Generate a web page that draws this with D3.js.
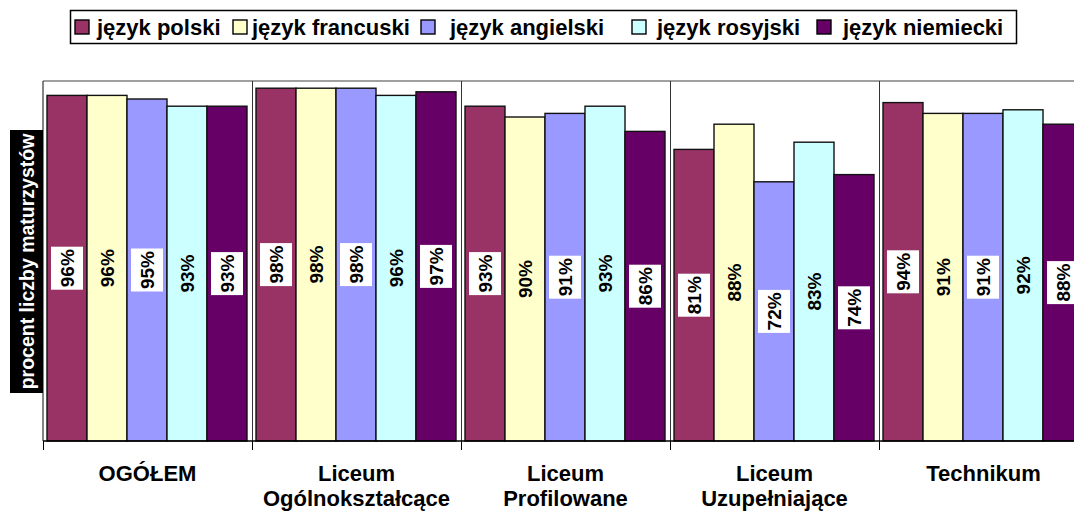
<!DOCTYPE html>
<html>
<head>
<meta charset="utf-8">
<script src="https://cdn.jsdelivr.net/npm/d3@7"></script>
<style>
  html, body { margin: 0; padding: 0; background: #fff; }
  svg { display: block; font-family: Arial, "Liberation Sans", sans-serif; }
</style>
</head>
<body>
<svg id="chart" width="1074" height="511"></svg>
<script>
// School types (x axis) and language series
const categories = ["OGÓŁEM", "Liceum\nOgólnokształcące", "Liceum\nProfilowane", "Liceum\nUzupełniające", "Technikum"];
const seriesNames = ["język polski", "język francuski", "język angielski", "język rosyjski", "język niemiecki"];
const polski     = [96, 98, 93, 81, 94];
const francuski  = [96, 98, 90, 88, 91];
const angielski  = [95, 98, 91, 72, 91];
const rosyjski   = [93, 96, 93, 83, 92];
const niemiecki  = [93, 97, 86, 74, 88];
const seriesValues = [polski, francuski, angielski, rosyjski, niemiecki];
const yAxisTitle = "procent liczby maturzystów";

const colors = ["#993366", "#FFFFCC", "#9999FF", "#CCFFFF", "#660066"];
const labelBoxed = [true, false, true, false, true];

const svg = d3.select("#chart");

const plot = { left: 43, right: 1088, top: 81, bottom: 441 };

const x = d3.scaleBand().domain(d3.range(categories.length))
  .range([plot.left, plot.right]).paddingInner(0).paddingOuter(0);
const xs = d3.scaleBand().domain(d3.range(seriesNames.length))
  .range([4, x.bandwidth() - 5]).padding(0);
const y = d3.scaleLinear().domain([0, 100]).range([plot.bottom, plot.top]);

// plot frame: top border and left border
svg.append("line").attr("x1", plot.left).attr("x2", 1074).attr("y1", plot.top).attr("y2", plot.top)
  .attr("stroke", "#808080").attr("stroke-width", 1.5);
svg.append("line").attr("x1", plot.left).attr("x2", plot.left).attr("y1", plot.top).attr("y2", plot.bottom)
  .attr("stroke", "#333").attr("stroke-width", 1.2);

// vertical grid lines on category boundaries
const bounds = d3.range(1, categories.length).map(i => x(i));
svg.append("g").selectAll("line").data(bounds).join("line")
  .attr("x1", d => d + 0.5).attr("x2", d => d + 0.5)
  .attr("y1", plot.top).attr("y2", plot.bottom)
  .attr("stroke", "#333").attr("stroke-width", 1);

// bars
const groups = svg.append("g").selectAll("g").data(categories).join("g")
  .attr("transform", (d, i) => `translate(${x(i)},0)`);

const cells = groups.selectAll("g.cell")
  .data((d, ci) => seriesValues.map((vals, si) => ({ si, v: vals[ci] })))
  .join("g").attr("class", "cell");

cells.append("rect")
  .attr("x", d => xs(d.si))
  .attr("width", xs.bandwidth())
  .attr("y", d => y(d.v))
  .attr("height", d => y(0) - y(d.v))
  .attr("fill", d => colors[d.si])
  .attr("stroke", "#111").attr("stroke-width", 1.4);

// value labels, rotated, centred in each bar
const lab = cells.append("g")
  .attr("transform", d => `translate(${xs(d.si) + xs.bandwidth() / 2},${(y(d.v) + y(0)) / 2}) rotate(-90)`);
lab.filter(d => labelBoxed[d.si]).append("rect")
  .attr("x", -21.5).attr("y", -16).attr("width", 43).attr("height", 32)
  .attr("fill", "#fff");
lab.append("text")
  .attr("text-anchor", "middle").attr("dy", "0.36em")
  .attr("font-size", 19).attr("font-weight", "bold").attr("fill", "#000")
  .text(d => d.v + "%");

// x axis baseline and ticks
svg.append("line").attr("x1", plot.left).attr("x2", 1074).attr("y1", plot.bottom).attr("y2", plot.bottom)
  .attr("stroke", "#000").attr("stroke-width", 1.5);
svg.append("g").selectAll("line").data(d3.range(0, categories.length + 1).map(i => i === categories.length ? plot.right : x(i)))
  .join("line")
  .attr("x1", d => d + 0.5).attr("x2", d => d + 0.5)
  .attr("y1", plot.bottom).attr("y2", plot.bottom + 9)
  .attr("stroke", "#000").attr("stroke-width", 1);

// category labels
svg.append("g").selectAll("text").data(categories).join("text")
  .attr("x", (d, i) => x(i) + x.bandwidth() / 2)
  .attr("y", 481)
  .attr("text-anchor", "middle")
  .attr("font-size", 22).attr("font-weight", "bold").attr("fill", "#000")
  .each(function (d) {
    const t = d3.select(this);
    d.split("\n").forEach((line, k) => {
      t.append("tspan").attr("x", t.attr("x")).attr("dy", k === 0 ? 0 : 24.5).text(line);
    });
  });

// y axis title on black band
svg.append("rect").attr("x", 10).attr("y", 130).attr("width", 33).attr("height", 263).attr("fill", "#000");
svg.append("text")
  .attr("transform", "translate(27,261.5) rotate(-90)")
  .attr("text-anchor", "middle").attr("dy", "0.36em")
  .attr("font-size", 19.5).attr("font-weight", "bold").attr("fill", "#fff")
  .text(yAxisTitle);

// legend
svg.append("rect").attr("x", 70.5).attr("y", 10.5).attr("width", 946).attr("height", 33)
  .attr("fill", "#fff").attr("stroke", "#000").attr("stroke-width", 1.5);
const swatchX = [75, 233, 421, 632, 817];
const textOffset = [22, 19, 29, 25, 26];
const leg = svg.append("g").selectAll("g").data(seriesNames).join("g");
leg.append("rect")
  .attr("x", (d, i) => swatchX[i]).attr("y", 20).attr("width", 14).attr("height", 14)
  .attr("fill", (d, i) => colors[i]).attr("stroke", "#000").attr("stroke-width", 1.4);
leg.append("text")
  .attr("x", (d, i) => swatchX[i] + textOffset[i]).attr("y", 35)
  .attr("font-size", 22).attr("font-weight", "bold").attr("fill", "#000")
  .text(d => d);
</script>
</body>
</html>
